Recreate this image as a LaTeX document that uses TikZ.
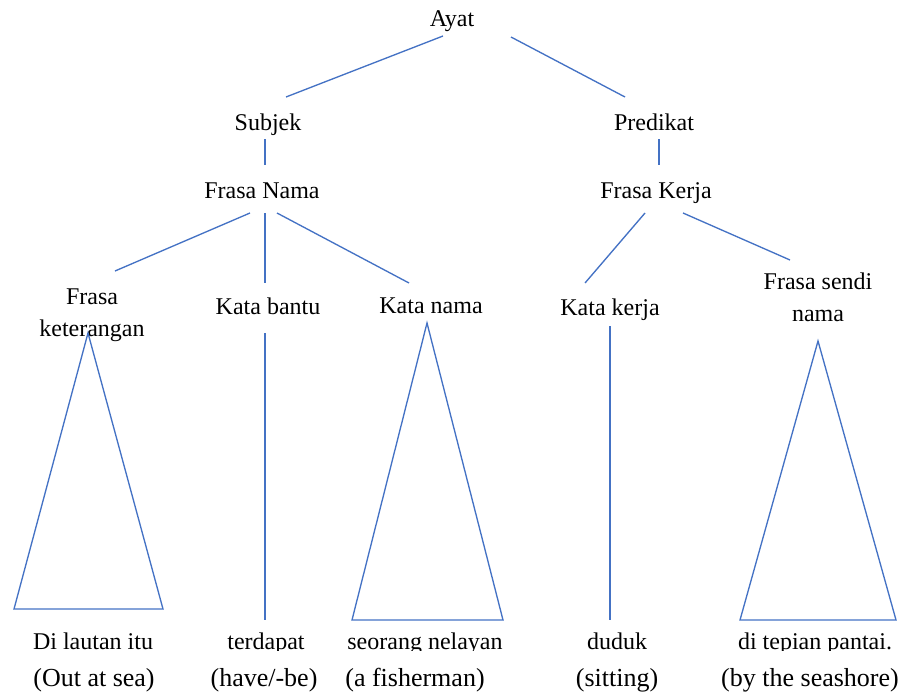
\documentclass[tikz,border=0pt]{standalone}
\usepackage{fontspec}
\setmainfont{Liberation Serif}
\definecolor{linkblue}{HTML}{4472C4}
\begin{document}
\begin{tikzpicture}[x=0.75pt,y=-0.75pt,
  lbl/.style={inner sep=0pt, anchor=base, align=center,
    font=\fontsize{18}{24}\selectfont},
  gloss/.style={lbl, font=\fontsize{19.5}{24}\selectfont},
  branch/.style={draw=linkblue, line width=1pt},
]
\useasboundingbox (0,0) rectangle (913,693);

% category labels (two-line labels are placed by the baseline of their last line)
\node[lbl] (ayat)     at (452,26)  {Ayat};
\node[lbl] (subjek)   at (268,130) {Subjek};
\node[lbl] (predikat) at (654,130) {Predikat};
\node[lbl] (fnama)    at (262,198) {Frasa Nama};
\node[lbl] (fkerja)   at (656,198) {Frasa Kerja};
\node[lbl] (fket)     at (92,336)  {Frasa\\keterangan};
\node[lbl] (kbantu)   at (268,314) {Kata bantu};
\node[lbl] (knama)    at (431,313) {Kata nama};
\node[lbl] (kkerja)   at (610,315) {Kata kerja};
\node[lbl] (fsendi)   at (818,321) {Frasa sendi\\nama};

% branch end points
\coordinate (ayatL) at (443,36);  \coordinate (subjT) at (286,97);
\coordinate (ayatR) at (511,37);  \coordinate (predT) at (625,97);
\coordinate (subjB) at (265,139); \coordinate (fnT)   at (265,165);
\coordinate (predB) at (659,139); \coordinate (fkT)   at (659,165);
\coordinate (fnL) at (250,213);   \coordinate (fketT)   at (115,271);
\coordinate (fnM) at (265,213);   \coordinate (kbantuT) at (265,283);
\coordinate (fnR) at (277,213);   \coordinate (knamaT)  at (409,283);
\coordinate (fkL) at (645,213);   \coordinate (kkerjaT) at (585,283);
\coordinate (fkR) at (683,213);   \coordinate (fsendiT) at (790,260);

\draw[branch] (ayatL) -- (subjT);
\draw[branch] (ayatR) -- (predT);
\draw[branch] (subjB) -- (fnT);
\draw[branch] (predB) -- (fkT);
\draw[branch] (fnL) -- (fketT);
\draw[branch] (fnM) -- (kbantuT);
\draw[branch] (fnR) -- (knamaT);
\draw[branch] (fkL) -- (kkerjaT);
\draw[branch] (fkR) -- (fsendiT);

% roof triangles and stems down to the words
\coordinate (t1a) at (88,333);  \coordinate (t1l) at (14,609);  \coordinate (t1r) at (163,609);
\coordinate (t3a) at (427,323); \coordinate (t3l) at (352,620); \coordinate (t3r) at (503,620);
\coordinate (t5a) at (818,341); \coordinate (t5l) at (740,620); \coordinate (t5r) at (896,620);
\draw[branch] (t1a) -- (t1l) -- (t1r) -- cycle;
\draw[branch] (t3a) -- (t3l) -- (t3r) -- cycle;
\draw[branch] (t5a) -- (t5l) -- (t5r) -- cycle;
\coordinate (s2t) at (265,333); \coordinate (s2b) at (265,620);
\coordinate (s4t) at (610,326); \coordinate (s4b) at (610,620);
\draw[branch] (s2t) -- (s2b);
\draw[branch] (s4t) -- (s4b);

% Malay words (their descenders are cut off by the text frame)
\begin{scope}
  \clip (0,600) rectangle (913,650);
  \node[lbl] (w1) at (93,649)  {Di lautan itu};
  \node[lbl] (w2) at (266,649) {terdapat};
  \node[lbl] (w3) at (425,649) {seorang nelayan};
  \node[lbl] (w4) at (617,649) {duduk};
  \node[lbl] (w5) at (815,649) {di tepian pantai.};
\end{scope}

% English glosses
\node[gloss] (g1) at (94,686)  {(Out at sea)};
\node[gloss] (g2) at (264,686) {(have/-be)};
\node[gloss] (g3) at (415,686) {(a fisherman)};
\node[gloss] (g4) at (617,686) {(sitting)};
\node[gloss] (g5) at (810,686) {(by the seashore)};
\end{tikzpicture}
\end{document}
